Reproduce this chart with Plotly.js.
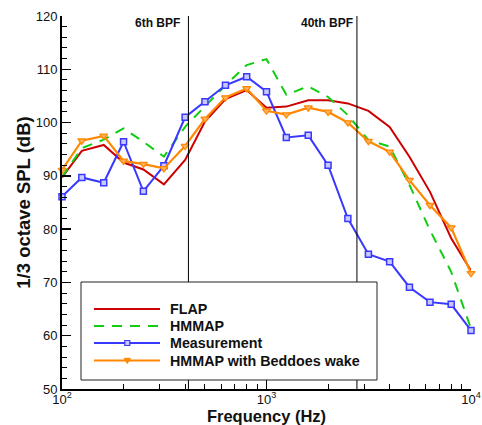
<!DOCTYPE html>
<html>
<head>
<meta charset="utf-8">
<script src="https://cdn.plot.ly/plotly-3.0.1.min.js"></script>
<style>html,body{margin:0;padding:0;background:#fff;}#chart{width:482px;height:425px;}</style>
</head>
<body>
<div id="chart"></div>
<script>
// 1/3-octave band centre frequencies (Hz)
const freqs = [100,125,160,200,250,315,400,500,630,800,1000,1250,1600,2000,2500,3150,4000,5000,6300,8000,10000];
// Series (dB)
const flap    = [89.7,94.7,95.8,92.5,91.2,88.4,93.0,100.2,104.4,106.1,102.8,103.0,104.2,104.2,103.6,102.2,99.2,93.6,87.0,78.3,72.2];
const hmmap   = [89.8,95.2,96.8,98.9,96.4,93.6,99.2,103.0,107.0,110.8,111.9,105.2,106.8,104.8,101.4,96.7,95.5,88.3,79.8,72.0,61.3];
const meas    = [86.1,89.7,88.7,96.4,87.1,91.9,101.0,103.9,107.0,108.6,105.8,97.2,97.6,92.0,82.0,75.3,73.9,69.1,66.3,65.9,61.0];
const beddoes = [91.1,96.6,97.5,92.8,92.2,91.4,95.6,100.7,104.7,106.4,102.2,101.5,102.8,102.0,100.0,96.5,94.5,89.2,84.5,80.3,71.7];
const seriesNames = ['FLAP','HMMAP','Measurement','HMMAP with Beddoes wake'];
// Blade passing frequency markers
const bpfHz = 69.2;
const bpfOrders = [6, 40];
const bpfLabels = ['6th BPF', '40th BPF'];
// Axis ticks
const xTickVals = [100, 1000, 10000];
const xTickText = ['10<sup>2</sup>', '10<sup>3</sup>', '10<sup>4</sup>'];
const xMinorVals = [200,300,400,500,600,700,800,900,2000,3000,4000,5000,6000,7000,8000,9000];

const colors = ['#cc0000', '#11cc11', '#3838ff', '#ff8800'];
const FONT = '"Liberation Sans", Arial, Helvetica, sans-serif';

// plot-area pixel geometry
const L = 62, R = 471, T = 16, B = 389;
const PX = p => (p - L) / (R - L);
const PY = p => (B - p) / (B - T);
const LX = f => (Math.log10(f) - 2) / 2;

const traces = [
  {x: freqs, y: flap, name: seriesNames[0], mode: 'lines', line: {color: colors[0], width: 2}},
  {x: freqs, y: hmmap, name: seriesNames[1], mode: 'lines', line: {color: colors[1], width: 2, dash: '10px,8px'}},
  {x: freqs, y: meas, name: seriesNames[2], mode: 'lines+markers', line: {color: colors[2], width: 2},
   marker: {symbol: 'square', size: 6, color: '#c8c8ff', line: {color: colors[2], width: 1.5}}},
  {x: freqs, y: beddoes, name: seriesNames[3], mode: 'lines+markers', line: {color: colors[3], width: 2.2},
   marker: {symbol: 'triangle-down', size: 7, color: '#ffb060', line: {color: colors[3], width: 1.2}}}
].map(t => Object.assign(t, {cliponaxis: false, showlegend: false}));

const shapes = [];
const annotations = [];
bpfOrders.forEach((n, i) => {
  const xf = LX(n * bpfHz);
  shapes.push({type: 'line', xref: 'paper', yref: 'paper', x0: xf, x1: xf, y0: 0, y1: 1,
               line: {color: 'black', width: 1}, layer: 'above'});
});
annotations.push({xref: 'paper', yref: 'paper', x: PX(182), y: PY(23), xanchor: 'right', yanchor: 'middle',
  text: '<b>' + bpfLabels[0] + '</b>', showarrow: false, font: {family: FONT, size: 12, color: '#111'}});
annotations.push({xref: 'paper', yref: 'paper', x: PX(355), y: PY(23), xanchor: 'right', yanchor: 'middle',
  text: '<b>' + bpfLabels[1] + '</b>', showarrow: false, font: {family: FONT, size: 12, color: '#111'}});

// legend box (drawn manually)
shapes.push({type: 'rect', xref: 'paper', yref: 'paper', x0: PX(81), x1: PX(377), y0: PY(380), y1: PY(282),
  fillcolor: 'white', line: {color: '#222', width: 1}, layer: 'above'});
const rows = [309, 326, 343, 360.5];
rows.forEach((ry, i) => {
  const ln = {color: colors[i], width: i === 3 ? 2.2 : 2};
  if (i === 1) ln.dash = '10px,8px';
  shapes.push({type: 'line', xref: 'paper', yref: 'paper', x0: PX(94), x1: PX(160), y0: PY(ry), y1: PY(ry),
    line: ln, layer: 'above'});
  annotations.push({xref: 'paper', yref: 'paper', x: PX(168), y: PY(ry), xanchor: 'left', yanchor: 'middle',
    text: '<b>' + seriesNames[i] + '</b>', showarrow: false, font: {family: FONT, size: 14.3, color: '#111'}});
});
// legend symbols
const mx = 127.3;
shapes.push({type: 'rect', xref: 'paper', yref: 'paper', x0: PX(mx - 2.5), x1: PX(mx + 2.5), y0: PY(rows[2] + 2.5), y1: PY(rows[2] - 2.5),
  fillcolor: '#c8c8ff', line: {color: colors[2], width: 1.2}, layer: 'above'});
shapes.push({type: 'path', xref: 'paper', yref: 'paper',
  path: 'M' + PX(mx - 3.2) + ',' + PY(rows[3] - 2.2) + ' L' + PX(mx + 3.2) + ',' + PY(rows[3] - 2.2) + ' L' + PX(mx) + ',' + PY(rows[3] + 3) + ' Z',
  fillcolor: colors[3], line: {color: colors[3], width: 1}, layer: 'above'});

const layout = {
  width: 482, height: 425,
  margin: {l: L, r: 482 - R, t: T, b: 425 - B, pad: 0},
  paper_bgcolor: 'white', plot_bgcolor: 'white',
  font: {family: FONT, size: 13, color: '#111'},
  showlegend: false,
  xaxis: {
    type: 'log', range: [2, 4], tickmode: 'array', tickvals: xTickVals, ticktext: xTickText,
    ticks: 'inside', ticklen: 9, tickwidth: 1.5, tickcolor: 'black',
    minor: {tickmode: 'array', tickvals: xMinorVals, ticks: 'inside', ticklen: 5, tickwidth: 1, tickcolor: 'black'},
    showline: true, linewidth: 2, linecolor: 'black', showgrid: false, zeroline: false,
    tickfont: {family: FONT, size: 13, color: '#111'}, ticklabelstandoff: -3,
    title: {text: '<b>Frequency (Hz)</b>', font: {family: FONT, size: 16.5, color: '#111'}, standoff: 0},
    automargin: false
  },
  yaxis: {
    range: [50, 120], tickmode: 'linear', tick0: 50, dtick: 10,
    ticks: 'inside', ticklen: 9, tickwidth: 1.5, tickcolor: 'black',
    minor: {dtick: 2, ticks: 'inside', ticklen: 5, tickwidth: 1, tickcolor: 'black'},
    showline: true, linewidth: 2, linecolor: 'black', showgrid: false, zeroline: false,
    tickfont: {family: FONT, size: 13, color: '#111'},
    title: {text: '<b>1/3 octave SPL (dB)</b>', font: {family: FONT, size: 18.5, color: '#111'}, standoff: 0},
    automargin: false
  },
  shapes: shapes,
  annotations: annotations
};

Plotly.newPlot('chart', traces, layout, {displayModeBar: false, staticPlot: true});
</script>
</body>
</html>
